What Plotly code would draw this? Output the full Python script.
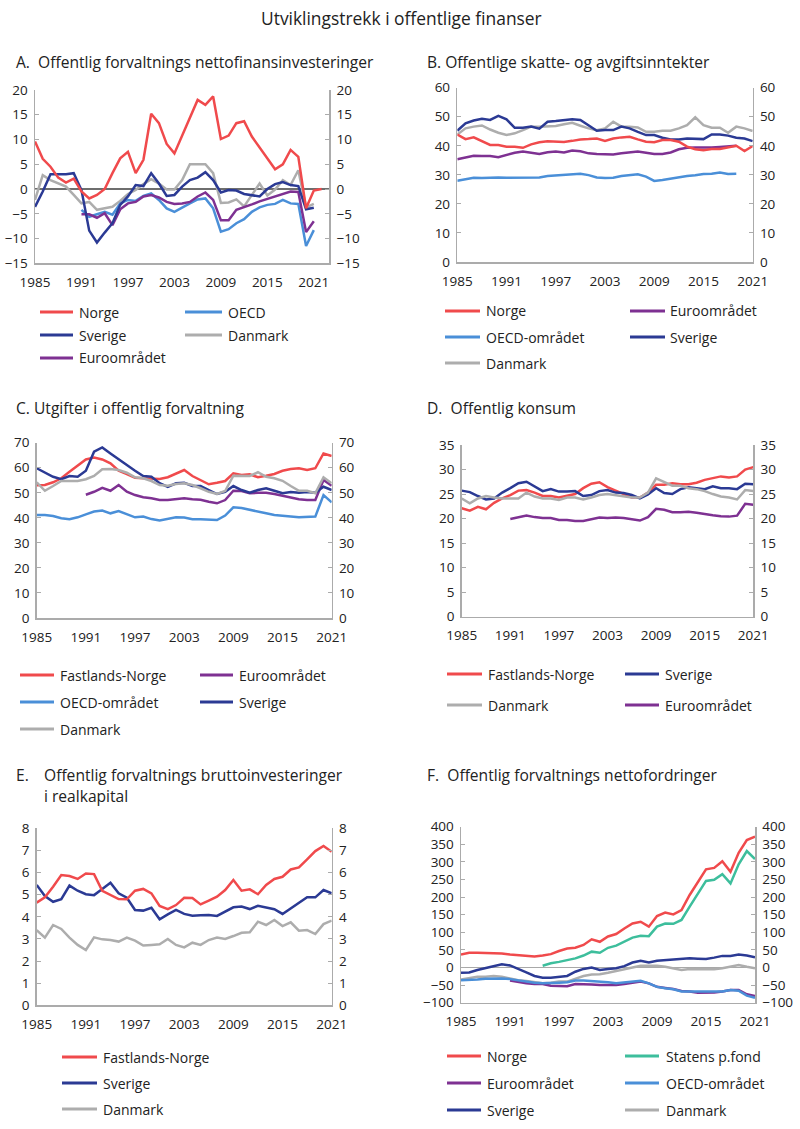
import plotly.graph_objects as go

W, H = 800, 1129
FONT = "Open Sans"

C_NO = "#F04A4C"
C_OECD = "#4A8FD8"
C_SE = "#2B3A94"
C_DK = "#ADADAD"
C_EU = "#7E3192"
C_SPF = "#3DBE9C"

YEARS_85_21 = list(range(1985, 2022))
YEARS_85_22 = list(range(1985, 2023))
YEARS_85_19 = list(range(1985, 2020))
YEARS_91_21 = list(range(1991, 2022))
YEARS_95_21 = list(range(1995, 2022))
XTICKS = [1985, 1991, 1997, 2003, 2009, 2015, 2021]

# Panel A: nettofinansinvesteringer
a_norge = [9.6, 6.1, 4.5, 2.3, 1.3, 2.1, -0.5, -1.9, -1.2, 0.0, 3.2, 6.2, 7.5, 3.2, 5.9, 15.2, 13.3, 9.1, 7.2, 10.9,
           14.6, 18.0, 17.0, 18.7, 10.1, 10.8, 13.3, 13.7, 10.6, 8.4, 6.2, 4.0, 5.0, 7.9, 6.5, -3.9, -0.3, 0.0]
a_sverige = [-3.6, -0.5, 3.0, 3.0, 3.0, 3.2, -0.2, -8.4, -10.8, -8.8, -6.9, -3.2, -1.5, 0.8, 0.6, 3.2, 1.1, -1.4, -1.2, 0.5,
             1.8, 2.3, 3.4, 1.8, -0.7, -0.2, -0.3, -1.0, -1.3, -1.5, 0.0, 1.0, 1.4, 0.8, 0.6, -4.1, -3.8]
a_danmark = [-2.2, 2.8, 1.8, 1.1, 0.5, -1.2, -2.9, -2.6, -4.2, -3.9, -3.6, -2.4, -1.0, -0.2, 1.0, 2.0, 1.1, -0.1, -0.1, 1.8,
             5.0, 5.0, 5.0, 3.2, -2.8, -2.7, -2.1, -3.5, -1.2, 1.1, -1.3, -0.1, 1.8, 0.8, 3.8, -3.7, -3.0]
a_oecd = [-4.2, -5.6, -5.1, -4.6, -5.2, -2.9, -2.2, -2.4, -1.4, -0.9, -2.2, -3.9, -4.6, -3.7, -2.9, -2.1, -1.9, -3.9,
          -8.6, -8.1, -6.9, -6.1, -4.6, -3.7, -3.2, -3.0, -2.2, -2.9, -3.0, -11.5, -8.3]
a_euro = [-5.1, -5.1, -5.8, -4.9, -7.3, -4.1, -2.9, -2.6, -1.5, -1.2, -1.7, -2.6, -3.0, -2.9, -2.6, -1.5, -0.7, -2.2,
          -6.3, -6.3, -4.2, -3.7, -3.1, -2.5, -2.0, -1.5, -1.0, -0.5, -0.6, -8.7, -6.5]

# Panel B: skatte- og avgiftsinntekter
b_norge = [43.9, 42.3, 42.9, 41.6, 40.3, 40.3, 39.7, 39.7, 39.3, 40.5, 41.2, 41.6, 41.4, 41.3, 41.7, 42.2, 42.3, 42.5,
           41.7, 42.5, 42.9, 43.1, 42.2, 41.4, 41.2, 42.0, 42.0, 41.4, 39.7, 38.8, 38.5, 38.9, 38.9, 39.4, 40.0, 38.2, 39.9]
b_euro = [35.4, 36.0, 36.6, 36.5, 36.5, 36.1, 36.8, 37.6, 38.0, 37.6, 37.2, 37.8, 38.0, 37.7, 38.4, 38.1, 37.4, 37.2,
          37.2, 37.0, 37.4, 37.8, 38.0, 37.6, 37.2, 37.2, 37.7, 38.8, 39.3, 39.4, 39.3, 39.4, 39.6, 39.8, 40.0]
b_oecd = [28.0, 28.4, 29.0, 28.9, 29.1, 29.1, 29.0, 29.0, 29.2, 29.2, 29.1, 29.6, 29.8, 30.0, 30.3, 30.4, 29.9, 29.1,
          28.9, 29.0, 29.6, 29.9, 30.2, 29.4, 27.9, 28.2, 28.7, 29.1, 29.6, 29.9, 30.3, 30.4, 30.8, 30.3, 30.4]
b_sverige = [45.2, 47.7, 48.7, 49.3, 48.9, 50.3, 49.1, 46.2, 46.2, 46.6, 45.9, 48.3, 48.5, 48.9, 49.1, 48.9, 46.9, 45.2,
             45.4, 45.4, 46.6, 46.0, 44.8, 43.7, 43.7, 42.8, 42.2, 42.2, 42.5, 42.3, 42.3, 43.9, 43.9, 43.5, 42.8, 42.5, 41.6]
b_danmark = [43.9, 46.0, 46.6, 47.0, 45.6, 44.5, 43.7, 44.3, 45.4, 46.6, 46.6, 46.8, 46.8, 47.4, 47.9, 46.9, 46.0, 45.4,
             46.0, 48.3, 46.6, 46.6, 46.3, 44.8, 44.8, 45.2, 45.2, 46.0, 47.1, 49.8, 47.1, 46.2, 46.2, 44.5, 46.6, 46.0, 45.1]

# Panel C: utgifter
c_norge = [53.0, 53.1, 54.2, 55.8, 58.4, 60.7, 63.3, 64.1, 63.3, 61.8, 58.8, 57.5, 56.0, 55.8, 55.5, 55.5, 56.2, 57.8,
           59.1, 56.7, 55.1, 53.4, 54.0, 54.7, 57.8, 57.1, 57.4, 56.2, 56.8, 57.5, 58.8, 59.5, 59.8, 59.1, 59.8, 65.7, 64.7]
c_euro = [49.2, 50.4, 52.0, 50.8, 53.1, 50.4, 49.1, 48.2, 47.8, 47.1, 47.1, 47.4, 47.8, 47.4, 47.2, 46.4, 45.8, 47.1,
          50.8, 50.7, 49.8, 50.0, 50.0, 49.5, 48.7, 48.0, 47.4, 47.1, 47.1, 55.1, 52.8]
c_oecd = [41.1, 41.1, 40.7, 39.8, 39.4, 40.2, 41.4, 42.5, 42.9, 41.8, 42.7, 41.4, 40.2, 40.5, 39.5, 38.9, 39.5, 40.2,
          40.1, 39.4, 39.4, 39.1, 39.1, 40.9, 44.2, 43.9, 43.1, 42.5, 41.8, 41.1, 40.7, 40.5, 40.2, 40.2, 40.5, 49.1, 46.2]
c_sverige = [59.8, 58.0, 56.4, 55.4, 56.7, 56.4, 58.8, 66.4, 68.1, 65.7, 63.3, 61.1, 58.8, 56.7, 56.4, 53.8, 52.4, 53.8,
             54.0, 52.7, 52.7, 51.1, 49.5, 50.4, 52.7, 51.1, 50.0, 51.1, 51.8, 50.8, 49.8, 50.3, 50.0, 50.3, 50.0, 52.4, 51.1]
c_danmark = [54.2, 50.8, 52.7, 54.7, 54.7, 54.7, 55.4, 56.7, 59.4, 59.5, 59.1, 58.0, 56.2, 55.8, 54.7, 53.1, 52.8, 53.5,
             53.8, 53.1, 51.8, 50.4, 49.5, 50.7, 56.8, 56.7, 56.7, 58.2, 56.4, 55.8, 54.8, 52.7, 50.8, 50.8, 49.8, 56.2, 53.8]

# Panel D: konsum
d_norge = [22.1, 21.6, 22.4, 21.9, 23.2, 24.1, 24.8, 25.7, 25.8, 25.3, 24.6, 24.6, 24.3, 24.6, 25.0, 26.2, 27.1, 27.4,
           26.4, 25.7, 25.0, 24.3, 24.3, 25.3, 26.9, 26.9, 27.2, 27.0, 27.0, 27.3, 27.9, 28.2, 28.6, 28.4, 28.6, 30.0, 30.5]
d_sverige = [25.7, 25.4, 24.6, 23.9, 24.1, 25.3, 26.2, 27.2, 27.5, 26.6, 25.6, 26.0, 25.5, 25.5, 25.6, 24.6, 24.8, 25.6,
             25.8, 25.3, 25.2, 24.8, 24.1, 24.9, 26.2, 25.2, 25.0, 26.0, 26.4, 26.2, 26.0, 26.6, 26.2, 26.2, 26.0, 27.1, 27.0]
d_danmark = [24.1, 23.1, 24.1, 24.6, 24.3, 24.1, 24.1, 24.1, 25.3, 24.5, 24.1, 24.1, 23.8, 24.3, 24.3, 23.9, 24.3, 24.8,
             25.0, 24.8, 24.5, 24.3, 24.3, 25.3, 28.2, 27.5, 26.7, 26.7, 26.2, 26.0, 25.6, 25.0, 24.5, 24.3, 23.9, 25.8, 25.6]
d_euro = [19.9, 20.3, 20.6, 20.3, 20.1, 20.1, 19.7, 19.7, 19.5, 19.5, 19.9, 20.2, 20.1, 20.2, 20.1, 19.9, 19.6, 20.3,
          22.0, 21.8, 21.3, 21.3, 21.4, 21.2, 20.9, 20.7, 20.5, 20.4, 20.6, 23.0, 22.8]

# Panel E: bruttoinvesteringer i realkapital
e_norge = [4.64, 4.88, 5.36, 5.89, 5.84, 5.71, 5.96, 5.93, 5.17, 4.98, 4.80, 4.79, 5.18, 5.26, 5.06, 4.49, 4.35, 4.53,
           4.86, 4.85, 4.56, 4.73, 4.91, 5.21, 5.66, 5.18, 5.24, 5.02, 5.44, 5.71, 5.81, 6.14, 6.23, 6.60, 6.97, 7.20, 6.94]
e_sverige = [5.44, 4.94, 4.68, 4.80, 5.41, 5.18, 5.02, 4.98, 5.26, 5.54, 5.06, 4.86, 4.31, 4.28, 4.41, 3.89, 4.11, 4.31,
             4.13, 4.05, 4.07, 4.08, 4.04, 4.23, 4.43, 4.46, 4.35, 4.50, 4.41, 4.34, 4.13, 4.38, 4.64, 4.88, 4.88, 5.21, 5.06]
e_danmark = [3.40, 3.06, 3.63, 3.45, 3.06, 2.73, 2.50, 3.07, 2.98, 2.95, 2.88, 3.06, 2.92, 2.70, 2.73, 2.76, 3.00, 2.73,
             2.62, 2.83, 2.73, 2.95, 3.06, 3.00, 3.13, 3.28, 3.30, 3.78, 3.63, 3.86, 3.58, 3.75, 3.37, 3.40, 3.22, 3.67, 3.83]

# Panel F: nettofordringer
f_norge = [37, 42, 42, 42, 42, 40, 37, 35, 33, 31, 34, 38, 47, 54, 56, 64, 80, 73, 88, 95, 111, 125, 130, 116, 146, 156,
           151, 163, 206, 244, 279, 283, 302, 272, 326, 362, 372]
f_spf = [5, 12, 16, 21, 26, 34, 45, 42, 56, 62, 73, 85, 90, 89, 116, 125, 124, 135, 173, 211, 246, 249, 265, 239, 293,
         331, 308]
f_sverige = [-15, -14, -7, -2, 5, 9, 6, -5, -14, -24, -29, -29, -26, -24, -12, -4, 0, -7, -4, -2, 4, 14, 19, 14, 19, 21,
             23, 26, 26, 25, 24, 28, 33, 33, 37, 34, 29]
f_danmark = [-34, -29, -26, -26, -24, -26, -31, -36, -38, -42, -45, -43, -40, -40, -31, -24, -20, -19, -15, -10, -5, 2,
             5, 5, 5, 2, -2, -7, -4, -4, -4, -5, -2, 2, 7, 2, -2]
f_euro = [-37, -42, -45, -47, -47, -52, -52, -53, -47, -47, -48, -50, -50, -50, -47, -43, -40, -45, -55, -58, -61, -67,
          -68, -72, -72, -71, -68, -64, -64, -76, -81]
f_oecd = [-36, -36, -34, -32, -31, -31, -33, -37, -40, -43, -45, -45, -43, -42, -37, -37, -38, -40, -42, -45, -43, -40,
          -38, -45, -55, -59, -62, -68, -68, -69, -69, -69, -68, -64, -66, -80, -86]

# ---------------------------------------------------------------- layout helpers
def px_x(p):
    return p / W


def px_y(p):
    return 1 - p / H


# panel geometry in pixels: (left, right, top, bottom), y range, dtick, x range
PANELS = [
    dict(box=(35, 329.3, 90, 263.3), yr=[-15, 20], dt=5, xr=[1985, 2023], zero="#6E6E6E"),
    dict(box=(457.3, 752.7, 87.7, 262), yr=[0, 60], dt=10, xr=[1985, 2021], zero=None),
    dict(box=(36.7, 331.7, 442.7, 618), yr=[0, 70], dt=10, xr=[1985, 2021], zero=None),
    dict(box=(461.7, 753.3, 445, 616.7), yr=[0, 35], dt=5, xr=[1985, 2021], zero=None),
    dict(box=(36.7, 331.7, 828.3, 1005.3), yr=[0, 8], dt=1, xr=[1985, 2021], zero=None),
    dict(box=(461, 755, 826.7, 1002.7), yr=[-100, 400], dt=50, xr=[1985, 2021], zero="#A8A8A8"),
]

AXIS_COL = "#ABABAB"
TICK_FONT = dict(family=FONT, size=13.5, color="#222222")

fig = go.Figure()
layout = dict(
    template="none",
    width=W, height=H, autosize=False,
    margin=dict(l=0, r=0, t=0, b=0, pad=0, autoexpand=False),
    paper_bgcolor="white", plot_bgcolor="rgba(0,0,0,0)",
    showlegend=False,
    font=dict(family=FONT, color="#222222"),
)

for i, p in enumerate(PANELS, start=1):
    l, r, t, b = p["box"]
    xd = [px_x(l), px_x(r)]
    yd = [px_y(b), px_y(t)]
    xa = "xaxis" if i == 1 else f"xaxis{i}"
    ya = "yaxis" if i == 1 else f"yaxis{i}"
    layout[xa] = dict(
        domain=xd, anchor=f"y{i}" if i > 1 else "y", range=p["xr"],
        tickvals=XTICKS, ticktext=[str(v) for v in XTICKS],
        showline=True, linecolor=AXIS_COL, linewidth=1.5,
        ticks="", showgrid=False, zeroline=False, automargin=False,
        tickfont=TICK_FONT, ticklabelstandoff=6, fixedrange=True,
    )
    yaxis_common = dict(
        range=p["yr"], dtick=p["dt"], tick0=p["yr"][0],
        showline=True, linecolor=AXIS_COL, linewidth=1.5,
        ticks="inside", ticklen=4, tickcolor=AXIS_COL, tickwidth=1,
        showgrid=False, tickfont=TICK_FONT, fixedrange=True,
        ticklabelstandoff=3, automargin=False,
    )
    layout[ya] = dict(
        domain=yd, anchor=f"x{i}" if i > 1 else "x", side="left",
        zeroline=p["zero"] is not None, zerolinecolor=p["zero"] or AXIS_COL, zerolinewidth=1.3,
        **yaxis_common,
    )
    layout[f"yaxis{i + 6}"] = dict(
        overlaying=f"y{i}" if i > 1 else "y", anchor=f"x{i}" if i > 1 else "x", side="right",
        zeroline=False, **yaxis_common,
    )
    # invisible helper trace so the mirrored right-hand axis is drawn
    fig.add_trace(go.Scatter(
        x=p["xr"], y=[p["yr"][0], p["yr"][0]], mode="lines", line=dict(width=0, color="rgba(0,0,0,0)"),
        xaxis="x" if i == 1 else f"x{i}", yaxis=f"y{i + 6}",
        hoverinfo="skip", showlegend=False,
    ))


def add_line(panel, x, y, color):
    fig.add_trace(go.Scatter(
        x=x, y=y, mode="lines", line=dict(color=color, width=2.5),
        xaxis="x" if panel == 1 else f"x{panel}",
        yaxis="y" if panel == 1 else f"y{panel}",
        hoverinfo="skip", showlegend=False,
    ))


# Panel A
add_line(1, YEARS_85_21, a_danmark, C_DK)
add_line(1, YEARS_91_21, a_oecd, C_OECD)
add_line(1, YEARS_91_21, a_euro, C_EU)
add_line(1, YEARS_85_21, a_sverige, C_SE)
add_line(1, YEARS_85_22, a_norge, C_NO)
# Panel B
add_line(2, YEARS_85_19, b_oecd, C_OECD)
add_line(2, YEARS_85_19, b_euro, C_EU)
add_line(2, YEARS_85_21, b_danmark, C_DK)
add_line(2, YEARS_85_21, b_sverige, C_SE)
add_line(2, YEARS_85_21, b_norge, C_NO)
# Panel C
add_line(3, YEARS_85_21, c_oecd, C_OECD)
add_line(3, YEARS_91_21, c_euro, C_EU)
add_line(3, YEARS_85_21, c_norge, C_NO)
add_line(3, YEARS_85_21, c_sverige, C_SE)
add_line(3, YEARS_85_21, c_danmark, C_DK)
# Panel D
add_line(4, YEARS_91_21, d_euro, C_EU)
add_line(4, YEARS_85_21, d_norge, C_NO)
add_line(4, YEARS_85_21, d_sverige, C_SE)
add_line(4, YEARS_85_21, d_danmark, C_DK)
# Panel E
add_line(5, YEARS_85_21, e_danmark, C_DK)
add_line(5, YEARS_85_21, e_sverige, C_SE)
add_line(5, YEARS_85_21, e_norge, C_NO)
# Panel F
add_line(6, YEARS_85_21, f_danmark, C_DK)
add_line(6, YEARS_91_21, f_euro, C_EU)
add_line(6, YEARS_85_21, f_oecd, C_OECD)
add_line(6, YEARS_85_21, f_sverige, C_SE)
add_line(6, YEARS_95_21, f_spf, C_SPF)
add_line(6, YEARS_85_21, f_norge, C_NO)

# ---------------------------------------------------------------- titles and legends
annotations = []
shapes = []

TITLE_FONT = dict(family=FONT, size=15.6, color="#222222")
LEG_FONT = dict(family=FONT, size=14, color="#222222")


def text(x, y, s, font, xanchor="left"):
    annotations.append(dict(
        x=px_x(x), y=px_y(y), xref="paper", yref="paper", text=s, showarrow=False,
        xanchor=xanchor, yanchor="middle", font=font,
    ))


def legend_item(x0, x1, xt, y, color, name):
    shapes.append(dict(
        type="line", xref="paper", yref="paper", x0=px_x(x0), x1=px_x(x1), y0=px_y(y), y1=px_y(y),
        line=dict(color=color, width=3),
    ))
    text(xt, y, name, LEG_FONT)


text(402, 18, "Utviklingstrekk i offentlige finanser", dict(family=FONT, size=17.4, color="#222222"), "center")
text(14, 62, "A.&nbsp;&nbsp;Offentlig forvaltnings nettofinansinvesteringer", TITLE_FONT)
text(425, 62, "B. Offentlige skatte- og avgiftsinntekter", TITLE_FONT)
text(14, 408, "C. Utgifter i offentlig forvaltning", TITLE_FONT)
text(425, 408, "D.&nbsp;&nbsp;Offentlig konsum", TITLE_FONT)
text(14, 775, "E.", TITLE_FONT)
text(42, 775, "Offentlig forvaltnings bruttoinvesteringer", TITLE_FONT)
text(42, 796, "i realkapital", TITLE_FONT)
text(425, 775, "F.&nbsp;&nbsp;Offentlig forvaltnings nettofordringer", TITLE_FONT)

# Legend A
legend_item(40, 73, 77, 312, C_NO, "Norge")
legend_item(185, 222, 226, 312, C_OECD, "OECD")
legend_item(40, 73, 77, 335, C_SE, "Sverige")
legend_item(185, 222, 226, 335, C_DK, "Danmark")
legend_item(40, 73, 77, 358, C_EU, "Euroområdet")
# Legend B
legend_item(445, 480, 484, 311, C_NO, "Norge")
legend_item(630, 665, 668, 311, C_EU, "Euroområdet")
legend_item(445, 480, 484, 337, C_OECD, "OECD-området")
legend_item(630, 665, 668, 337, C_SE, "Sverige")
legend_item(445, 480, 484, 363, C_DK, "Danmark")
# Legend C
legend_item(20, 54, 58, 675, C_NO, "Fastlands-Norge")
legend_item(200, 233, 237, 675, C_EU, "Euroområdet")
legend_item(20, 54, 58, 702, C_OECD, "OECD-området")
legend_item(200, 233, 237, 702, C_SE, "Sverige")
legend_item(20, 54, 58, 729, C_DK, "Danmark")
# Legend D
legend_item(447, 482, 486, 674, C_NO, "Fastlands-Norge")
legend_item(625, 659, 663, 674, C_SE, "Sverige")
legend_item(447, 482, 486, 705, C_DK, "Danmark")
legend_item(625, 659, 663, 705, C_EU, "Euroområdet")
# Legend E
legend_item(62, 97, 101, 1057, C_NO, "Fastlands-Norge")
legend_item(62, 97, 101, 1083, C_SE, "Sverige")
legend_item(62, 97, 101, 1109, C_DK, "Danmark")
# Legend F
legend_item(447, 481, 485, 1056, C_NO, "Norge")
legend_item(625, 659, 664, 1056, C_SPF, "Statens p.fond")
legend_item(447, 481, 485, 1083, C_EU, "Euroområdet")
legend_item(625, 659, 664, 1083, C_OECD, "OECD-området")
legend_item(447, 481, 485, 1110, C_SE, "Sverige")
legend_item(625, 659, 664, 1110, C_DK, "Danmark")

layout["annotations"] = annotations
layout["shapes"] = shapes
fig.update_layout(**layout)

# remove the default page margin so the 800x1129 figure fills the window exactly
POST = "document.body.style.margin='0px';document.documentElement.style.overflow='hidden';"
fig.write_html("out.html", config={"displayModeBar": False, "staticPlot": True}, post_script=POST)
